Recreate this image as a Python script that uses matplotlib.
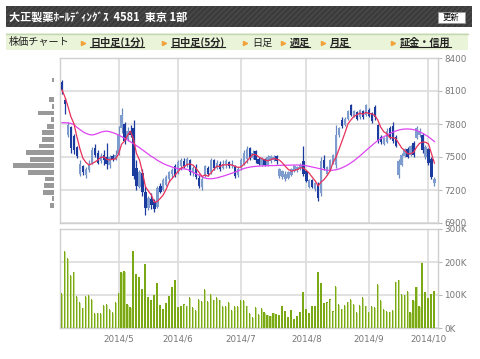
import numpy as np
import pandas as pd
import matplotlib
matplotlib.use('Agg')
import matplotlib.pyplot as plt
from matplotlib.patches import Rectangle
from matplotlib.lines import Line2D

plt.rcParams['font.family'] = ['Noto Sans CJK JP', 'DejaVu Sans']
plt.rcParams['hatch.linewidth'] = 1.2

# trading days (Tokyo, Apr 3 - Oct 3 2014)
holidays = ['2014-04-29', '2014-05-05', '2014-05-06', '2014-07-21', '2014-09-15', '2014-09-23']
dates = pd.bdate_range('2014-04-03', '2014-10-03', freq='C', holidays=holidays)

opens = [8180, 8020, 7700, 7770, 7690, 7590, 7350, 7420, 7340, 7380,
         7450, 7580, 7540, 7460, 7520, 7500, 7430, 7510, 7480, 7530,
         7760, 7800, 7660, 7740, 7760, 7400, 7230, 7350, 7180, 7040,
         7120, 7090, 7050, 7240, 7200, 7250, 7300, 7350, 7420, 7360,
         7420, 7460, 7430, 7470, 7360, 7410, 7310, 7230, 7330, 7400,
         7360, 7470, 7400, 7440, 7400, 7440, 7450, 7420, 7420, 7340,
         7400, 7440, 7480, 7580, 7490, 7550, 7480, 7430, 7480, 7430,
         7460, 7470, 7510, 7330, 7320, 7300, 7310, 7340, 7370, 7380,
         7400, 7460, 7370, 7230, 7290, 7210, 7250, 7170, 7470, 7350,
         7380, 7450, 7430, 7700, 7840, 7790, 7850, 7970, 7870, 7910,
         7860, 7920, 7880, 7930, 7900, 7950, 7790, 7680, 7620, 7640,
         7760, 7780, 7680, 7340, 7430, 7510, 7570, 7520, 7630, 7670,
         7700, 7700, 7500, 7570, 7480, 7260]
highs = [8200, 8040, 7820, 7780, 7710, 7600, 7470, 7430, 7410, 7470,
         7590, 7620, 7560, 7540, 7560, 7630, 7520, 7530, 7560, 7780,
         7950, 7820, 7770, 7790, 7840, 7470, 7380, 7390, 7240, 7150,
         7170, 7120, 7240, 7260, 7310, 7340, 7370, 7400, 7440, 7470,
         7490, 7490, 7500, 7480, 7420, 7440, 7350, 7330, 7430, 7420,
         7490, 7480, 7470, 7460, 7470, 7480, 7460, 7470, 7430, 7410,
         7490, 7560, 7600, 7590, 7560, 7560, 7500, 7500, 7490, 7520,
         7520, 7520, 7520, 7400, 7380, 7370, 7370, 7400, 7430, 7420,
         7450, 7600, 7380, 7300, 7300, 7270, 7270, 7500, 7520, 7420,
         7480, 7530, 7790, 7770, 7860, 7860, 7930, 7980, 7930, 7920,
         7940, 7930, 7980, 7950, 7910, 7970, 7800, 7700, 7680, 7760,
         7780, 7820, 7700, 7480, 7540, 7580, 7590, 7610, 7650, 7780,
         7760, 7720, 7610, 7580, 7500, 7320]
lows = [8070, 7890, 7680, 7540, 7530, 7490, 7330, 7340, 7310, 7360,
        7440, 7500, 7440, 7450, 7430, 7390, 7400, 7460, 7470, 7520,
        7720, 7620, 7650, 7680, 7300, 7200, 7220, 7150, 6970, 7020,
        7030, 7000, 7040, 7170, 7190, 7240, 7270, 7310, 7320, 7350,
        7380, 7400, 7410, 7340, 7330, 7300, 7220, 7200, 7320, 7330,
        7350, 7380, 7390, 7370, 7390, 7400, 7400, 7400, 7310, 7320,
        7380, 7430, 7450, 7470, 7480, 7450, 7430, 7420, 7420, 7420,
        7450, 7460, 7440, 7310, 7300, 7280, 7300, 7330, 7360, 7360,
        7380, 7330, 7270, 7220, 7220, 7190, 7100, 7150, 7380, 7340,
        7370, 7440, 7400, 7680, 7760, 7780, 7840, 7870, 7860, 7840,
        7850, 7850, 7870, 7860, 7810, 7840, 7630, 7620, 7610, 7630,
        7660, 7630, 7590, 7310, 7420, 7500, 7490, 7510, 7500, 7660,
        7680, 7540, 7480, 7430, 7300, 7240]
closes = [8110, 7980, 7790, 7580, 7560, 7510, 7440, 7360, 7390, 7440,
          7560, 7520, 7450, 7510, 7470, 7440, 7500, 7480, 7520, 7700,
          7880, 7650, 7740, 7700, 7330, 7240, 7360, 7180, 7040, 7130,
          7060, 7030, 7220, 7180, 7290, 7320, 7360, 7380, 7340, 7450,
          7470, 7420, 7480, 7360, 7400, 7320, 7240, 7300, 7420, 7350,
          7470, 7400, 7450, 7390, 7440, 7460, 7420, 7430, 7330, 7390,
          7470, 7540, 7570, 7490, 7540, 7470, 7440, 7490, 7430, 7500,
          7510, 7500, 7460, 7390, 7370, 7350, 7360, 7390, 7420, 7410,
          7430, 7350, 7280, 7290, 7230, 7260, 7130, 7460, 7400, 7410,
          7470, 7520, 7700, 7760, 7780, 7850, 7920, 7880, 7920, 7850,
          7930, 7860, 7970, 7870, 7830, 7860, 7650, 7640, 7670, 7740,
          7680, 7650, 7600, 7460, 7520, 7570, 7500, 7600, 7520, 7760,
          7740, 7560, 7590, 7450, 7320, 7300]

# 25-day moving average as drawn on the chart
ma25 = [7812, 7812, 7810, 7805, 7795, 7770, 7750, 7730, 7715, 7705,
        7700, 7705, 7715, 7725, 7732, 7735, 7730, 7722, 7712, 7700,
        7685, 7670, 7655, 7638, 7620, 7603, 7585, 7565, 7545, 7525,
        7505, 7490, 7470, 7455, 7440, 7428, 7418, 7408, 7400, 7395,
        7393, 7392, 7388, 7375, 7360, 7348, 7335, 7320, 7308, 7303,
        7302, 7305, 7310, 7318, 7325, 7334, 7343, 7352, 7362, 7372,
        7385, 7395, 7402, 7408, 7412, 7415, 7417, 7419, 7420, 7421,
        7422, 7422, 7423, 7424, 7425, 7425, 7426, 7426, 7427, 7427,
        7426, 7424, 7420, 7415, 7409, 7403, 7397, 7390, 7384, 7380,
        7379, 7380, 7384, 7392, 7402, 7415, 7430, 7447, 7466, 7488,
        7510, 7534, 7558, 7582, 7605, 7628, 7650, 7668, 7684, 7698,
        7712, 7725, 7736, 7745, 7751, 7754, 7755, 7753, 7749, 7742,
        7730, 7716, 7700, 7684, 7662, 7640]

# volume, thousand shares
volume_k = [105, 233, 211, 161, 171, 97, 78, 62, 97, 100,
            88, 44, 46, 44, 70, 72, 57, 47, 78, 107,
            169, 173, 73, 64, 233, 165, 155, 117, 194, 95,
            84, 99, 137, 70, 58, 76, 97, 125, 145, 64,
            66, 72, 68, 94, 64, 55, 88, 82, 117, 82,
            103, 86, 93, 86, 66, 66, 78, 55, 67, 66,
            84, 84, 68, 44, 32, 64, 42, 60, 48, 40,
            37, 46, 42, 39, 68, 51, 34, 54, 26, 36,
            48, 109, 59, 44, 68, 68, 171, 135, 75, 78,
            88, 52, 127, 72, 59, 70, 80, 88, 72, 47,
            70, 94, 68, 47, 66, 64, 133, 84, 58, 52,
            50, 55, 140, 146, 103, 101, 111, 48, 85, 125,
            67, 197, 109, 90, 103, 111]

# volume by price band (left histogram, relative units)
band_prices = [8200, 8140, 8080, 8020, 7960, 7900, 7840, 7780, 7720, 7660,
               7600, 7540, 7480, 7420, 7360, 7300, 7240, 7180, 7120, 7060]
band_volume = [27, 0, 0, 50, 20, 167, 33, 70, 127, 127,
               153, 287, 243, 410, 267, 93, 100, 110, 27, 43]

W, H = 480, 359
fig = plt.figure(figsize=(W / 100, H / 100), dpi=100)


def box(x0, y0, x1, y1):
    # pixel box (top-left origin) -> figure fraction
    return [x0 / W, 1 - y1 / H, (x1 - x0) / W, (y1 - y0) / H]


# header bar
fig.add_artist(Rectangle((6 / W, 1 - 27 / H), 466 / W, 21 / H, transform=fig.transFigure,
                         facecolor='#3b3b3b', edgecolor='#484848', hatch='//////', lw=0))
fig.text(9 / W, 1 - 17 / H, '大正製薬ﾎｰﾙﾃﾞｨﾝｸﾞｽ  4581  東京 1部', color='white',
         fontsize=8, fontweight='bold', va='center', ha='left')
fig.add_artist(Rectangle((438 / W, 1 - 23 / H), 27 / W, 11 / H, transform=fig.transFigure,
                         facecolor='white', edgecolor='#999999', lw=0.6))
fig.text(451.5 / W, 1 - 17.5 / H, '更新', color='black', fontsize=6, va='center', ha='center')

# tab bar
fig.add_artist(Rectangle((6 / W, 1 - 50 / H), 462 / W, 17 / H, transform=fig.transFigure,
                         facecolor='#e9f4d8', lw=0))
fig.add_artist(Line2D([6 / W, 468 / W], [1 - 33.5 / H, 1 - 33.5 / H], color='#c5d6b5', lw=1))
ty = 1 - 42.5 / H
fig.text(9 / W, ty, '株価チャート', fontsize=7.3, va='center', ha='left', color='#222222')
for ax_ in [83, 164, 245, 283, 323, 393]:
    fig.add_artist(Line2D([ax_ / W], [ty], marker='>', markersize=3, color='#f2a23a', lw=0))
links = [(90, '日中足(1分)', True), (171, '日中足(5分)', True), (252, '日足', False),
         (290, '週足', True), (330, '月足', True), (400, '証金・信用', True)]
link_texts = []
for lx, label, bold in links:
    t = fig.text(lx / W, ty, label, fontsize=7.3, va='center', ha='left', color='#222222',
                 fontweight='bold' if bold else 'normal')
    if bold:
        link_texts.append(t)

# axes
ax = fig.add_axes(box(60, 58, 438, 223))
axv = fig.add_axes(box(60, 229, 438, 328))
axh = fig.add_axes(box(4, 58, 54.3, 223))

x = np.arange(len(closes))
o = np.array(opens)
h = np.array(highs)
l = np.array(lows)
c = np.array(closes)
up = c >= o

up_col = '#7f9cce'
down_col = '#1b3c9e'
ax.vlines(x[up], l[up], h[up], color='#6a89c0', lw=0.9, zorder=2)
ax.vlines(x[~up], l[~up], h[~up], color=down_col, lw=0.9, zorder=2)
ax.bar(x[up], np.maximum(c - o, 10)[up], bottom=o[up], width=0.8, color=up_col, zorder=3)
ax.bar(x[~up], np.maximum(o - c, 10)[~up], bottom=c[~up], width=0.8, color=down_col, zorder=3)

ma5 = pd.Series(closes).rolling(5, min_periods=1).mean()
ax.plot(x, ma25, color='#dd44f2', lw=0.9, zorder=4)
ax.plot(x, ma5, color='#e8305a', lw=0.9, zorder=5)

month_idx = [i for i in range(1, len(dates)) if dates[i].month != dates[i - 1].month]
month_lbl = ['%d/%d' % (dates[i].year, dates[i].month) for i in month_idx]

for a in (ax, axv):
    a.set_xlim(-0.67, 126.2)
    a.set_xticks(month_idx)
    a.grid(True, color='#dcdcdc', lw=1.2, zorder=0)
    a.set_axisbelow(True)
    for s in a.spines.values():
        s.set_color('#cfcfcf')
        s.set_linewidth(1)
    a.yaxis.tick_right()
    a.tick_params(axis='y', length=3, color='#bbbbbb', labelsize=6.3, labelcolor='#777777', pad=1.5)
    a.tick_params(axis='x', length=0, labelsize=6.3, labelcolor='#777777', pad=5)

ax.set_ylim(6900, 8400)
ax.set_yticks(range(6900, 8401, 300))
ax.set_xticklabels([])

vx = np.array(volume_k)
axv.bar(x - 0.12, vx, width=0.5, color='#7ba916', zorder=3)
axv.bar(x + 0.22, vx - 2, width=0.22, color='#c4dd8c', zorder=3)
axv.set_ylim(0, 300)
axv.set_yticks([0, 100, 200, 300])
axv.set_yticklabels(['%dK' % v for v in [0, 100, 200, 300]])
axv.set_xticklabels(month_lbl)
for a in (ax, axv):
    for lbl in a.get_yticklabels() + a.get_xticklabels():
        lbl.set_family('DejaVu Sans')

axh.barh(band_prices, band_volume, height=42, color='#999999')
axh.set_ylim(6900, 8400)
axh.set_xlim(503, 0)
axh.axis('off')

# underline the links
fig.canvas.draw()
r = fig.canvas.get_renderer()
for t in link_texts:
    bb = t.get_window_extent(r)
    yy = (bb.y0 + 1) / H
    fig.add_artist(Line2D([bb.x0 / W, bb.x1 / W], [yy, yy], color='#222222', lw=0.8))

plt.savefig('out.png', dpi=100)
